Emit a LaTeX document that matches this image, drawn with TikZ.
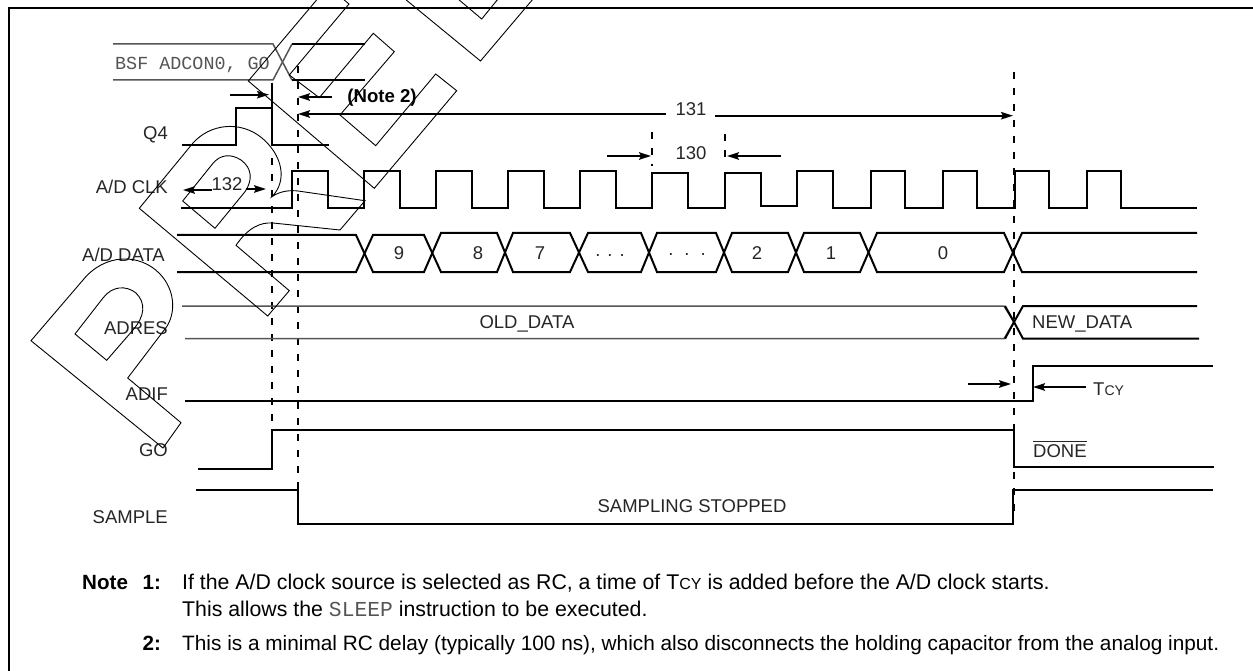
\documentclass[tikz,border=0pt]{standalone}
\usepackage{fontspec}
\setmainfont{Liberation Sans}
\setmonofont{Liberation Mono}
\usetikzlibrary{arrows.meta}
\definecolor{soft}{HTML}{555555}
\newcommand{\smc}[1]{{\fontsize{14pt}{14pt}\selectfont #1}}
\newcommand{\smcn}[1]{{\fontsize{16pt}{16pt}\selectfont #1}}
\tikzset{
  wire/.style={line width=2pt,line join=miter},
  softwire/.style={line width=1.5pt,color=soft},
  guide/.style={line width=2pt,dash pattern=on 7pt off 9pt},
  dim/.style={line width=1.8pt,-{Stealth[length=12pt,width=7.5pt,inset=2pt]}},
  wmark/.style={line width=0.9pt},
  siglabel/.style={font=\fontsize{18.5pt}{20pt}\selectfont,inner sep=0pt,text=black!85,anchor=base},
  siglabelr/.style={siglabel,anchor=base east},
  siglabell/.style={siglabel,anchor=base west},
  notetxt/.style={font=\fontsize{21.3pt}{22pt}\selectfont,inner sep=0pt,anchor=base west},
  notetxtb/.style={font=\fontsize{20.8pt}{22pt}\selectfont,inner sep=0pt,anchor=base west},
  notebold/.style={font=\fontsize{20.6pt}{22pt}\selectfont\bfseries,inner sep=0pt,anchor=base west},
  notetag/.style={font=\fontsize{18.6pt}{20pt}\selectfont\bfseries,inner sep=0pt,anchor=base},
}
\begin{document}
\begin{tikzpicture}[x=1pt,y=-1pt]
\useasboundingbox (0,0) rectangle (1253,671);
\fill[white] (0,0) rectangle (1253,671);
% frame
\draw[line width=2pt] (9,671) -- (9,8) -- (1253,8);
% guides
\draw[guide] (272,158) -- (272,428);
\draw[guide] (298,66) -- (298,490);
\draw[guide] (1014,72) -- (1014,520);
\draw[guide] (652,132) -- (652,166);
\draw[guide] (725,134) -- (725,166);
% BSF row
\draw[softwire] (113,44) -- (273,44) -- (292,80);
\draw[softwire] (113,80) -- (273,80) -- (292,44);
\draw[wire] (292,44) -- (365,44);
\draw[wire] (292,80) -- (365,80);
\node[siglabell,text=soft,font=\ttfamily\fontsize{18.4pt}{20pt}\selectfont] (bsf) at (115,69.3) {BSF ADCON0, GO};
% Q4
\draw[wire] (182,145) -- (236,145) -- (236,108.5) -- (272,108.5) -- (272,145) -- (329,145);
\draw[wire] (272,83) -- (272,145);
\draw[dim] (230,94.7) -- (269,94.7);
\draw[dim] (332,97) -- (298,97);
\draw[dim] (665.7,114) -- (298,114);
\draw[dim] (715,115.7) -- (1013,115.7);
\node[notetag] (n2) at (382,102.7) {(Note 2)};
\node[siglabel] (t131) at (691,116) {131};
\node[siglabel] (t130) at (691,159.3) {130};
\draw[dim] (607,156) -- (651,156);
\draw[dim] (781,156) -- (727,156);
\node[siglabelr] (lq4) at (168,139.3) {Q4};
% CLK
\draw[wire] (181,208) -- (292,208) -- (292,171) -- (328,171) -- (328,208)
 -- (364,208) -- (364,171) -- (400,171) -- (400,208)
 -- (436,208) -- (436,171) -- (472,171) -- (472,208)
 -- (508,208) -- (508,171) -- (544,171) -- (544,208)
 -- (580,208) -- (580,171) -- (616,171) -- (616,208)
 -- (652,208) -- (652,172.7) -- (688,172.7) -- (688,208)
 -- (725,208) -- (725,172.7) -- (761,172.7) -- (761,205.7)
 -- (797,205.7) -- (797,171) -- (833,171) -- (833,208)
 -- (871,208) -- (871,171) -- (905,171) -- (905,208)
 -- (943,208) -- (943,171) -- (977,171) -- (977,208)
 -- (1015,208) -- (1015,171) -- (1049,171) -- (1049,208)
 -- (1087,208) -- (1087,171) -- (1121,171) -- (1121,208) -- (1197,208);
\node[siglabelr] (lclk) at (168,194) {A/D CLK};
\node[siglabel] (t132) at (227,191) {132};
\draw[dim] (212,190) -- (183,190);
\draw[dim] (246,189) -- (266,189);
% DATA
\draw[wire] (177,235) -- (356,235) -- (373,272) -- (424,272) -- (441,233) -- (497,233) -- (513,272) -- (570,272) -- (588,233) -- (641,233) -- (657,272) -- (716,272) -- (732,233) -- (788,233) -- (804,272) -- (860,272) -- (877,233) -- (1004,233) -- (1022,272) -- (1197,272);
\draw[wire] (177,272) -- (356,272) -- (373,235) -- (424,235) -- (441,272) -- (497,272) -- (513,233) -- (570,233) -- (588,272) -- (641,272) -- (657,233) -- (716,233) -- (732,272) -- (788,272) -- (804,233) -- (860,233) -- (877,272) -- (1004,272) -- (1022,233) -- (1197,233);
\node[siglabelr] (ldata) at (165,261.7) {A/D DATA};
\node[siglabel] (d9) at (399,259.3) {9};
\node[siglabel] (d8) at (478,259.3) {8};
\node[siglabel] (d7) at (540,259.3) {7};
\node[siglabel] (d6) at (610,256) {.\hspace{7pt}.\hspace{7pt}.};
\node[siglabel] (d5) at (687,255) {.\hspace{11pt}.\hspace{11pt}.};
\node[siglabel] (d2) at (757,259.3) {2};
\node[siglabel] (d1) at (831,259.3) {1};
\node[siglabel] (d0) at (943,259.3) {0};
% ADRES
\draw[softwire] (182,306) -- (1004,306) -- (1014,322);
\draw[softwire] (185,338.7) -- (1004,338.7) -- (1014,322);
\draw[wire] (1005,338.7) -- (1014,322) -- (1023,306) -- (1197,306);
\draw[wire] (1005,306) -- (1014,322) -- (1023,338.7) -- (1199,338.7);
\node[siglabelr] (lres) at (168,334) {ADRES};
\node[siglabel] (old) at (527,328) {OLD\_DATA};
\node[siglabell] (new) at (1032,328.3) {NEW\_DATA};
% ADIF
\draw[wire] (185,401) -- (1033,401) -- (1033,366) -- (1213,366);
\draw[dim] (968,384) -- (1011,384);
\draw[dim] (1086,387) -- (1033,387);
\node[siglabelr] (lif) at (168,400.7) {ADIF};
\node[siglabell] (tcy) at (1093,395) {T\smc{CY}};
% GO
\draw[wire] (198,469) -- (272,469) -- (272,430) -- (1014,430) -- (1014,466.7) -- (1214,466.7);
\node[siglabelr] (lgo) at (168,456.7) {GO};
\node[siglabell] (done) at (1033,457.7) {$\overline{\rule{0pt}{15.5pt}\hbox{DONE}}$};
% SAMPLE
\draw[wire] (196,490) -- (298,490) -- (298,524) -- (1013,524) -- (1013,490) -- (1213,490);
\node[siglabelr] (lsam) at (168,523.3) {SAMPLE};
\node[siglabel] (stop) at (692,512.5) {SAMPLING STOPPED};
% notes
\node[notebold] (nn) at (82,589.3) {Note};
\node[notebold] (n1) at (142.5,589.3) {1:};
\node[notebold] (n22) at (142.5,650.7) {2:};
\node[notetxt] (l1) at (182,589.3) {If the A/D clock source is selected as RC, a time of T\smcn{CY} is added before the A/D clock starts.};
\node[notetxt] (l2) at (182,616.7) {This allows the {\ttfamily\color{soft}SLEEP} instruction to be executed.};
\node[notetxtb] (l3) at (182,650.7) {This is a minimal RC delay (typically 100 ns), which also disconnects the holding capacitor from the analog input.};
% watermark outlines
\begin{scope}
\clip (0,0) rectangle (1253,671);
\draw[wmark] (31,340.7) -- (163,448) -- (181,422.7) -- (127.7,378) -- (166.7,326.7)
  .. controls (176,312) and (175,290) .. (160,274) .. controls (140,253) and (105,253) .. (83,280) -- cycle;
\draw[wmark] (75,334) -- (106.7,360.3) -- (133,330) .. controls (145,316) and (146,303) .. (136,293) .. controls (126,285) and (112,286) .. (103,298) -- cycle;
\draw[wmark] (139.3,208.3) -- (193,143) .. controls (210,124) and (240,120) .. (262,138) .. controls (282,155) and (288,180) .. (272,196.7)
  .. controls (280,191) and (290,190) .. (298,191) -- (365,200.7) -- (340,230) -- (273,223) .. controls (260,222) and (248,228) .. (236,245.3)
  -- (289.3,290.7) -- (267.7,316) -- cycle;
\draw[wmark] (182.7,201) -- (215,228.3) -- (245,191.7) .. controls (253,180) and (252,168) .. (241,160) .. controls (230,153) and (220,155) .. (213,163.3) -- cycle;
\draw[wmark] (325,-10) -- (248.3,81) -- (374.3,188.3) -- (456.7,90.7) -- (435.7,74) -- (375.7,145.7) -- (340,115) -- (394.3,51.7) -- (373.3,33.3) -- (319.3,97.7) -- (289.3,75) -- (349,4) -- (325,-16);
\draw[wmark] (405,-1) -- (480.5,61) -- (533,-1);
\draw[wmark] (458,-1) -- (481.7,19) -- (498,-1);
\end{scope}
\end{tikzpicture}
\end{document}
